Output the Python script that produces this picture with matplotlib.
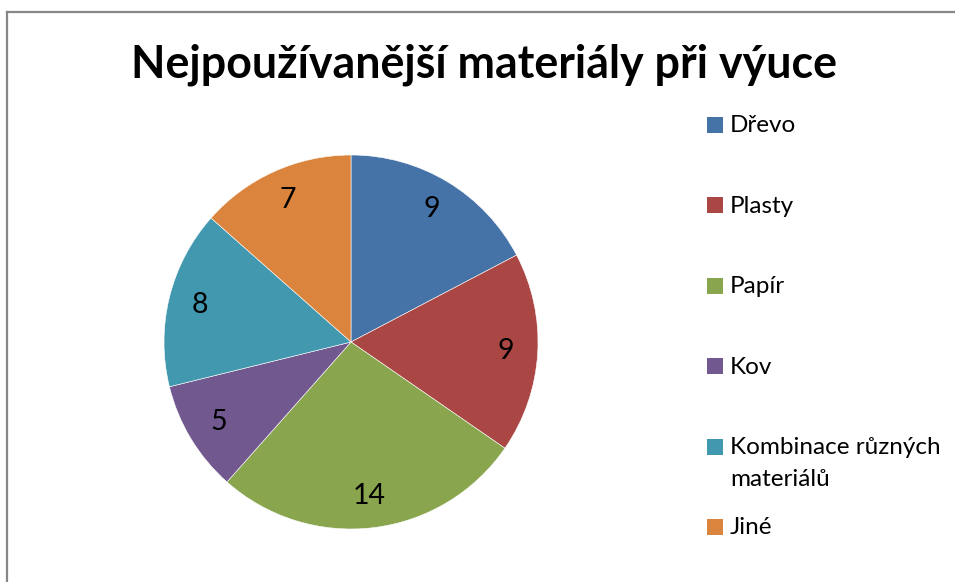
import matplotlib
matplotlib.use("Agg")
import matplotlib.pyplot as plt
from matplotlib.lines import Line2D
from matplotlib.patches import Rectangle

title = "Nejpoužívanější materiály při výuce"
categories = ["Dřevo", "Plasty", "Papír", "Kov", "Kombinace různých\nmateriálů", "Jiné"]
values = [9, 9, 14, 5, 8, 7]
colors = ["#4572A7", "#AA4643", "#89A54E", "#71588F", "#4198AF", "#DB843D"]

W, H = 955, 582
FONT = ["Lato", "DejaVu Sans"]

fig = plt.figure(figsize=(W / 100, H / 100), dpi=100)
fig.patch.set_facecolor("white")

def fx(px):
    return px / W

def fy(py):
    return 1 - py / H

# chart border (only left and top visible)
fig.add_artist(Line2D([fx(7), fx(7)], [fy(12), fy(H + 5)], color="#878787", lw=1.6))
fig.add_artist(Line2D([fx(7), fx(W + 5)], [fy(12), fy(12)], color="#878787", lw=1.6))

# title
fig.text(fx(484), fy(78), title, ha="center", va="baseline",
         fontsize=32.2, fontweight="bold", family=FONT, color="black")

# pie
cx, cy, r = 351, 342, 187
ax = fig.add_axes([fx(cx - r), fy(cy + r), 2 * r / W, 2 * r / H])
total = sum(values)
wedges, texts, autotexts = ax.pie(
    values, colors=colors, startangle=90, counterclock=False,
    autopct=lambda p: f"{round(p * total / 100):d}", pctdistance=0.83,
    wedgeprops=dict(edgecolor="white", linewidth=0.4),
    textprops=dict(fontsize=20.5, family=FONT, color="black"))
ax.set_xlim(-1, 1)
ax.set_ylim(-1, 1)
ax.set_aspect("equal")
ax.axis("off")

# legend
for i, (lab, col) in enumerate(zip(categories, colors)):
    yc = 125 + 80.4 * i
    fig.add_artist(Rectangle((fx(707), fy(yc + 8)), 16 / W, 16 / H,
                             facecolor=col, edgecolor="none",
                             transform=fig.transFigure))
    for j, line in enumerate(lab.split("\n")):
        fig.text(fx(730), fy(yc + 7.5 + 32 * j), line, ha="left", va="baseline",
                 fontsize=17.5, family=FONT, color="black")

fig.savefig("out.png", dpi=100)
